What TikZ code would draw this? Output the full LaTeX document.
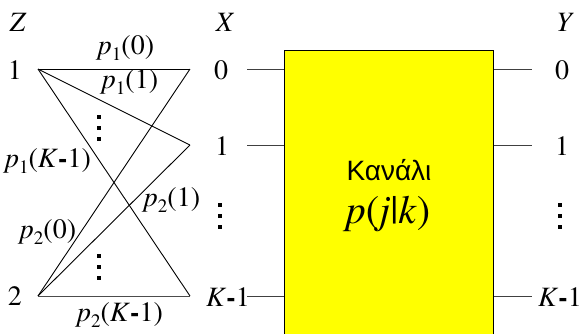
\documentclass[tikz,border=0pt]{standalone}
\usepackage[T1,TU]{fontenc}
\usepackage{fontspec}
\newfontfamily\greeksans{Liberation Sans}
\newcommand\tms{\fontencoding{T1}\fontfamily{ptm}\selectfont}
\newcommand\psub[1]{\raisebox{-0.22em}{\fontsize{19}{19}\selectfont #1}}
\newcommand\pprob[2]{\textit{p}\psub{#1}(#2)}
\newcommand\kmo{\textit{K}\textbf{-}1}
\newcommand\dotcol[2]{%
  \fill[black] (#1-2,#2-13) rectangle (#1+2,#2-9);
  \fill[black] (#1-2,#2-2) rectangle (#1+2,#2+2);
  \fill[black] (#1-2,#2+9) rectangle (#1+2,#2+13);}
\begin{document}
\begin{tikzpicture}[x=1pt,y=-1pt,
  lbl/.style={inner sep=0pt,font=\tms\fontsize{28}{30}\selectfont},
  edge/.style={line width=0.9pt,black},
  wire/.style={line width=0.9pt,black!75}]
\useasboundingbox (0,0) rectangle (581,333);
\clip (0,0) rectangle (581,333);
% channel box
\node[draw=black,fill={rgb,255:red,255;green,255;blue,0},line width=0.9pt,minimum width=209pt,minimum height=295pt,inner sep=0pt] (box) at (389,198) {};
\node[inner sep=0pt,font=\greeksans\fontsize{28}{30}\selectfont] (kan) at (389,170) {Κανάλι};
\node[inner sep=0pt,font=\tms\fontsize{40}{42}\selectfont] (pjk) at (388,214) {\textit{p}(\textit{j}|\textit{k})};
% headers
\node[lbl] (Z) at (18,22) {\textit{Z}};
\node[lbl] (X) at (225,22) {\textit{X}};
\node[lbl] (Y) at (565,22) {\textit{Y}};
% Z nodes
\node[lbl] (z1l) at (15,70) {1};
\node[lbl] (z2l) at (15,296) {2};
\coordinate (z1) at (38,69);
\coordinate (z2) at (38,296);
% X points
\coordinate (x0) at (190,69);
\coordinate (x1) at (190,145);
\coordinate (xk) at (190,296);
\node[lbl] (x0l) at (221,70) {0};
\node[lbl] (x1l) at (222,146) {1};
\node[lbl] (xkl) at (228,297) {\kmo};
\dotcol{220}{216}
% Y labels
\node[lbl] (y0l) at (562,70) {0};
\node[lbl] (y1l) at (562,146) {1};
\node[lbl] (ykl) at (560,297) {\kmo};
\dotcol{559.5}{216}
% transition edges
\draw[edge] (z1) -- (x0);
\draw[edge] (z1) -- (x1);
\draw[edge] (z1) -- (xk);
\draw[edge] (z2) -- (x0);
\draw[edge] (z2) -- (x1);
\draw[edge,black!70] (z2) -- (xk);
% probability labels
\node[lbl] (p10) at (126,48) {\pprob{1}{0}};
\node[lbl] (p11) at (130,82) {\pprob{1}{1}};
\dotcol{98.5}{128}
\node[lbl] (p1k) at (48,161) {\pprob{1}{\kmo}};
\node[lbl] (p21) at (172,200) {\pprob{2}{1}};
\node[lbl] (p20) at (48,232) {\pprob{2}{0}};
\dotcol{98.5}{266.5}
\node[lbl] (p2k) at (120,315) {\pprob{2}{\kmo}};
% channel wires
\coordinate (i0) at (247,69);
\coordinate (i1) at (247,145);
\coordinate (ik) at (247,296);
\coordinate (o0) at (532,69);
\coordinate (o1) at (532,145);
\coordinate (ok) at (532,296);
\draw[wire] (i0) -- (i0 -| box.west);
\draw[wire] (i1) -- (i1 -| box.west);
\draw[wire] (ik) -- (ik -| box.west);
\draw[wire] (o0 -| box.east) -- (o0);
\draw[wire] (o1 -| box.east) -- (o1);
\draw[wire] (ok -| box.east) -- (ok);
\end{tikzpicture}
\end{document}
